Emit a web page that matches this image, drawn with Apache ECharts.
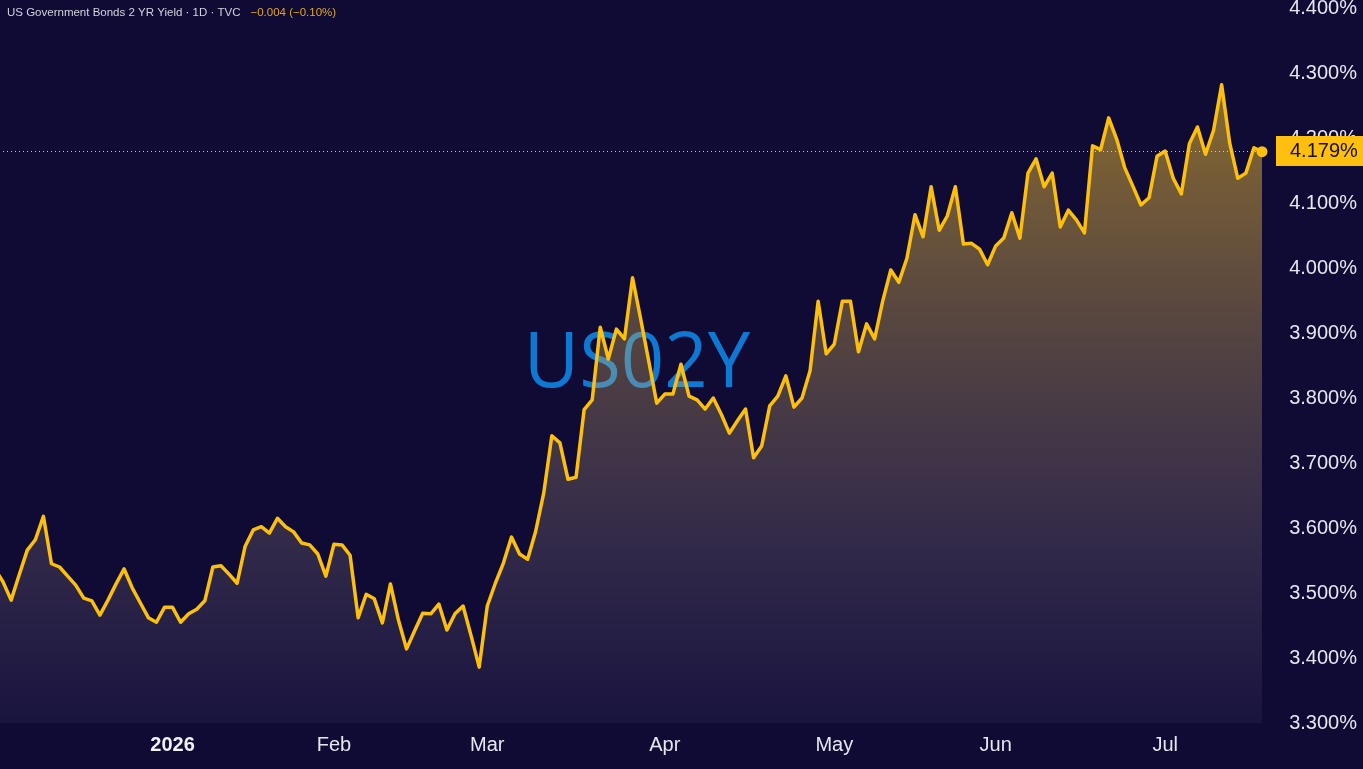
<!DOCTYPE html>
<html><head><meta charset="utf-8">
<script src="https://cdn.jsdelivr.net/npm/echarts@6/dist/echarts.min.js"></script>
<style>html,body{margin:0;padding:0;background:#100b34;}#c{width:1363px;height:769px;}</style>
</head><body><div id="c"></div>
<script>
// ---- data ----
const startDate = '2025-12-01';
const holidays = ['2025-12-25','2026-01-01','2026-01-19','2026-02-16','2026-04-03','2026-05-25','2026-06-19','2026-07-03'];
const yields = [
 3.537,3.517,3.489,3.528,3.566,3.582,3.618,3.545,3.540,3.526,
 3.512,3.492,3.488,3.466,3.489,3.514,3.537,3.508,3.485,3.462,
 3.455,3.478,3.478,3.455,3.468,3.475,3.488,3.540,3.542,3.529,
 3.515,3.572,3.597,3.602,3.592,3.615,3.602,3.594,3.577,3.574,
 3.560,3.526,3.575,3.574,3.558,3.462,3.498,3.491,3.454,3.514,
 3.458,3.414,3.442,3.469,3.468,3.483,3.443,3.468,3.480,3.434,
 3.386,3.480,3.515,3.546,3.586,3.560,3.552,3.595,3.654,3.742,
 3.731,3.675,3.678,3.782,3.797,3.909,3.860,3.906,3.891,3.985,
 3.922,3.857,3.792,3.806,3.806,3.852,3.803,3.797,3.783,3.800,
 3.775,3.746,3.765,3.783,3.708,3.726,3.788,3.803,3.834,3.786,
 3.800,3.842,3.949,3.868,3.883,3.949,3.949,3.871,3.914,3.891,
 3.949,3.997,3.978,4.015,4.082,4.048,4.125,4.058,4.080,4.125,
 4.037,4.038,4.029,4.005,4.034,4.046,4.085,4.046,4.146,4.168,
 4.125,4.146,4.063,4.089,4.074,4.054,4.188,4.182,4.231,4.198,
 4.154,4.126,4.097,4.108,4.172,4.180,4.138,4.114,4.191,4.217,
 4.175,4.212,4.282,4.192,4.138,4.146,4.185,4.179
];
const monthNames = ['Jan','Feb','Mar','Apr','May','Jun','Jul','Aug','Sep','Oct','Nov','Dec'];
const titleText = 'US Government Bonds 2 YR Yield · 1D · TVC';
const changeText = '\u22120.004 (\u22120.10%)';
const symbolText = 'US02Y';
const yMin = 3.3, yMax = 4.4, yStep = 0.1;

// ---- trading-day categories ----
const dates = [];
(function(){
  let d = new Date(startDate + 'T00:00:00Z');
  while (dates.length < yields.length) {
    const wd = d.getUTCDay();
    const s = d.toISOString().slice(0,10);
    if (wd !== 0 && wd !== 6 && holidays.indexOf(s) < 0) dates.push(s);
    d = new Date(d.getTime() + 86400000);
  }
})();
function isMonthStart(i){
  if (i === 0) return false;
  return dates[i].slice(5,7) !== dates[i-1].slice(5,7);
}
const last = yields[yields.length-1];

const chart = echarts.init(document.getElementById('c'));
chart.setOption({
  animation: false,
  backgroundColor: '#100b34',
  title: {
    left: 7, top: 4, padding: 0,
    text: '{a|' + titleText + '}  {b|' + changeText + '}',
    textStyle: { fontWeight: 'normal', rich: {
      a: { color: '#d1d4dc', fontSize: 11.5, fontWeight: 'normal', fontFamily: 'Liberation Sans' },
      b: { color: '#e0a526', fontSize: 11.5, fontWeight: 'normal', fontFamily: 'Liberation Sans' }
    }}
  },
  graphic: [{
    type: 'text', x: 637, y: 365, z: 0,
    style: { text: symbolText, fill: '#0d79d3', font: '76px "Open Sans"', textAlign: 'center', textVerticalAlign: 'middle' }
  }],
  grid: { left: -5, right: 101, top: 8, bottom: 46, outerBoundsMode: 'none', containLabel: false },
  xAxis: {
    type: 'category', data: dates, boundaryGap: false,
    axisLine: { show: false }, axisTick: { show: false }, splitLine: { show: false },
    axisLabel: {
      interval: function(i){ return isMonthStart(i); },
      margin: 12,
      color: '#e6e6ee', fontSize: 20, fontFamily: 'Liberation Sans',
      formatter: function(v){
        const m = parseInt(v.slice(5,7),10) - 1;
        return m === 0 ? '{y|' + v.slice(0,4) + '}' : monthNames[m];
      },
      rich: { y: { fontWeight: 'bold', fontSize: 20, color: '#f0f0f5', fontFamily: 'Liberation Sans' } }
    }
  },
  yAxis: {
    type: 'value', position: 'right', min: yMin, max: yMax, interval: yStep,
    axisLine: { show: false }, axisTick: { show: false }, splitLine: { show: false },
    axisLabel: {
      margin: 95, align: 'right',
      color: '#e6e6ee', fontSize: 20, fontFamily: 'Liberation Sans',
      formatter: function(v){ return v.toFixed(3) + '%'; }
    }
  },
  series: [{
    type: 'line', data: yields, symbol: 'none', z: 3,
    lineStyle: { color: '#fbbf0c', width: 3.5, join: 'round' },
    areaStyle: {
      color: new echarts.graphic.LinearGradient(0, 0, 0, 1, [
        { offset: 0, color: 'rgba(250,195,40,0.74)' },
        { offset: 0.4, color: 'rgba(225,185,90,0.46)' },
        { offset: 1, color: 'rgba(190,180,230,0.08)' }
      ])
    },
    markPoint: {
      symbol: 'circle', symbolSize: 11, label: { show: false },
      itemStyle: { color: '#fbbf0c' },
      data: [{ coord: [dates[dates.length-1], last] }]
    },
    markLine: {
      silent: true, symbol: ['none','none'],
      lineStyle: { type: [1,3], color: 'rgba(255,215,130,0.9)', width: 1 },
      label: {
        show: true, position: 'end', distance: 14,
        formatter: last.toFixed(3) + '%',
        backgroundColor: '#ffbf0f', color: '#15110a',
        fontSize: 20, fontFamily: 'Liberation Sans',
        padding: [5, 6, 5, 14]
      },
      data: [{ yAxis: last }]
    }
  }]
});
</script></body></html>
